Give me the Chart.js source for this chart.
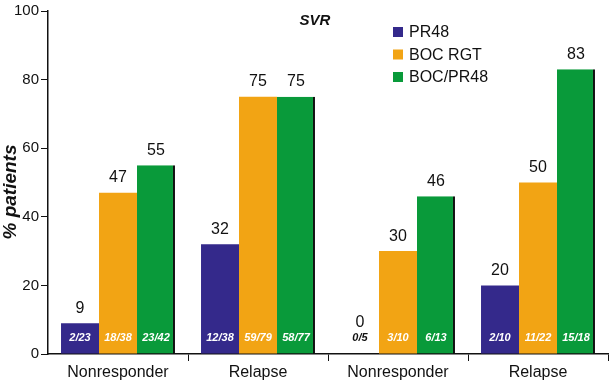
<!DOCTYPE html>
<html>
<head>
<meta charset="utf-8">
<script src="https://cdn.jsdelivr.net/npm/chart.js@4/dist/chart.umd.min.js"></script>
<style>
  html, body { margin: 0; padding: 0; background: #fff; }
  #wrap { width: 611px; height: 384px; }
</style>
</head>
<body>
<div id="wrap"><canvas id="c" width="611" height="384"></canvas></div>
<script>
const categories = ['Nonresponder', 'Relapse', 'Nonresponder', 'Relapse'];
const seriesNames = ['PR48', 'BOC RGT', 'BOC/PR48'];
const pr48 = [9, 32, 0, 20];
const bocRgt = [47, 75, 30, 50];
const bocPr48 = [55, 75, 46, 83];
const pr48Frac = ['2/23', '12/38', '0/5', '2/10'];
const bocRgtFrac = ['18/38', '59/79', '3/10', '11/22'];
const bocPr48Frac = ['23/42', '58/77', '6/13', '15/18'];
const yTicks = [0, 20, 40, 60, 80, 100];
const chartTitle = 'SVR';
const yTitle = '% patients';

const colors = ['#34298b', '#f2a414', '#099a3a'];
const fractions = [pr48Frac, bocRgtFrac, bocPr48Frac];
const FONT = '"Liberation Sans", Arial, Helvetica, sans-serif';

const labelsPlugin = {
  id: 'labels',
  afterDatasetsDraw(chart) {
    const ctx = chart.ctx;
    const base = chart.scales.y.getPixelForValue(0);
    ctx.save();
    ctx.textAlign = 'center';
    ctx.textBaseline = 'middle';
    chart.data.datasets.forEach((ds, di) => {
      const meta = chart.getDatasetMeta(di);
      meta.data.forEach((el, i) => {
        const v = ds.data[i];
        ctx.font = '16px ' + FONT;
        ctx.fillStyle = '#111';
        const vy = v === 0 ? el.y - 31 : el.y - 15;
        ctx.fillText(String(v), el.x, vy);
        ctx.font = 'italic bold 11px ' + FONT;
        ctx.fillStyle = v === 0 ? '#111' : '#ffffff';
        ctx.fillText(fractions[di][i], el.x, base - 16);
      });
    });
    ctx.restore();
  }
};

const legendPlugin = {
  id: 'customLegend',
  afterDraw(chart) {
    const ctx = chart.ctx;
    ctx.save();
    ctx.textAlign = 'center';
    ctx.textBaseline = 'middle';
    ctx.font = 'italic bold 15px ' + FONT;
    ctx.fillStyle = '#111';
    ctx.fillText(chartTitle, 315, 21);
    // y axis title
    ctx.save();
    ctx.translate(11, 192);
    ctx.rotate(-Math.PI / 2);
    ctx.font = 'italic bold 19px ' + FONT;
    ctx.fillText(yTitle, 0, 0);
    ctx.restore();
    ctx.textAlign = 'left';
    ctx.font = '16px ' + FONT;
    chart.data.datasets.forEach((ds, i) => {
      const cy = 32 + i * 22.5;
      ctx.fillStyle = colors[i];
      ctx.fillRect(393, cy - 5, 10, 10);
      ctx.fillStyle = '#111';
      ctx.fillText(ds.label, 409, cy + 1);
    });
    ctx.restore();
  }
};

new Chart(document.getElementById('c'), {
  type: 'bar',
  data: {
    labels: categories,
    datasets: [
      { label: seriesNames[0], data: pr48, backgroundColor: colors[0] },
      { label: seriesNames[1], data: bocRgt, backgroundColor: colors[1] },
      { label: seriesNames[2], data: bocPr48, backgroundColor: colors[2],
        borderColor: '#111', borderWidth: { top: 0, right: 2, bottom: 0, left: 0 }, borderSkipped: false }
    ]
  },
  options: {
    responsive: false,
    animation: false,
    devicePixelRatio: 1,
    layout: { padding: { top: 7, right: 3, left: 0, bottom: 0 } },
    datasets: { bar: { categoryPercentage: 0.814, barPercentage: 1.0 } },
    plugins: { legend: { display: false }, tooltip: { enabled: false }, title: { display: false } },
    scales: {
      x: {
        grid: { offset: true, drawOnChartArea: false, drawTicks: true, tickLength: 7,
                color: c => c.index === 0 ? 'rgba(0,0,0,0)' : '#111', lineWidth: 1 },
        border: { color: '#111', width: 1.5 },
        ticks: { font: { family: FONT, size: 16 }, color: '#111', padding: 2, maxRotation: 0 },
        afterFit: s => { s.height = 30; }
      },
      y: {
        min: 0, max: 100,
        afterBuildTicks: s => { s.ticks = yTicks.map(v => ({ value: v })); },
        grid: { drawOnChartArea: false, drawTicks: true, tickLength: 7, color: '#111', lineWidth: 1 },
        border: { color: '#111', width: 1.5 },
        ticks: { font: { family: FONT, size: 15 }, color: '#111', padding: 2 },
        afterFit: s => { s.width = 48; }
      }
    }
  },
  plugins: [labelsPlugin, legendPlugin]
});
</script>
</body>
</html>
